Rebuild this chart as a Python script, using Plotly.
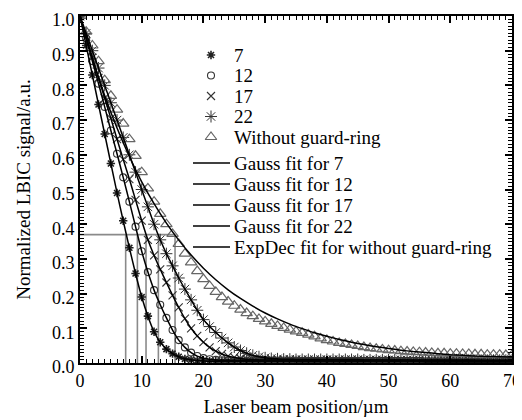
import plotly.graph_objects as go

# ---------------- data ----------------
x_pos = list(range(71))  # laser beam position, µm

y_7 = [1.0, 0.915, 0.83, 0.745, 0.66, 0.575, 0.49, 0.41, 0.332, 0.258,
       0.19, 0.135, 0.09, 0.06, 0.04, 0.027, 0.018, 0.012, 0.009, 0.007,
       0.006, 0.005, 0.005, 0.005, 0.005, 0.005, 0.005, 0.005, 0.005, 0.005,
       0.005, 0.005, 0.005, 0.005, 0.005, 0.005, 0.004, 0.004, 0.004, 0.004,
       0.004, 0.004, 0.004, 0.004, 0.004, 0.004, 0.004, 0.004, 0.004, 0.004,
       0.004, 0.004, 0.004, 0.004, 0.004, 0.004, 0.003, 0.003, 0.003, 0.003,
       0.003, 0.003, 0.003, 0.003, 0.003, 0.003, 0.003, 0.003, 0.003, 0.003,
       0.003]

y_12 = [1.0, 0.935, 0.87, 0.805, 0.738, 0.67, 0.603, 0.535, 0.465, 0.393,
        0.322, 0.262, 0.21, 0.168, 0.13, 0.095, 0.066, 0.045, 0.03, 0.02,
        0.014, 0.011, 0.009, 0.008, 0.008, 0.007, 0.007, 0.007, 0.007, 0.007,
        0.007, 0.007, 0.007, 0.007, 0.007, 0.007, 0.006, 0.006, 0.006, 0.006,
        0.006, 0.006, 0.006, 0.006, 0.006, 0.006, 0.006, 0.006, 0.006, 0.006,
        0.006, 0.006, 0.006, 0.006, 0.006, 0.006, 0.005, 0.005, 0.005, 0.005,
        0.005, 0.005, 0.005, 0.005, 0.005, 0.005, 0.005, 0.005, 0.005, 0.005,
        0.005]

y_17 = [1.0, 0.94, 0.88, 0.822, 0.763, 0.705, 0.645, 0.587, 0.53, 0.47,
        0.41, 0.355, 0.31, 0.27, 0.232, 0.195, 0.16, 0.128, 0.1, 0.078,
        0.06, 0.045, 0.034, 0.026, 0.02, 0.016, 0.013, 0.011, 0.01, 0.009,
        0.009, 0.009, 0.009, 0.009, 0.009, 0.009, 0.008, 0.008, 0.008, 0.008,
        0.008, 0.008, 0.008, 0.008, 0.008, 0.008, 0.008, 0.008, 0.008, 0.008,
        0.008, 0.008, 0.008, 0.008, 0.007, 0.007, 0.007, 0.007, 0.007, 0.007,
        0.007, 0.007, 0.007, 0.007, 0.007, 0.007, 0.007, 0.007, 0.007, 0.007,
        0.007]

y_22 = [1.0, 0.95, 0.9, 0.85, 0.8, 0.75, 0.7, 0.65, 0.6, 0.55,
        0.5, 0.45, 0.4, 0.355, 0.315, 0.28, 0.245, 0.213, 0.182, 0.152,
        0.125, 0.105, 0.088, 0.072, 0.058, 0.046, 0.036, 0.028, 0.022, 0.018,
        0.015, 0.013, 0.012, 0.011, 0.011, 0.01, 0.01, 0.01, 0.01, 0.01,
        0.01, 0.01, 0.01, 0.01, 0.01, 0.01, 0.009, 0.009, 0.009, 0.009,
        0.009, 0.009, 0.009, 0.009, 0.009, 0.009, 0.009, 0.009, 0.009, 0.009,
        0.009, 0.009, 0.009, 0.009, 0.008, 0.008, 0.008, 0.008, 0.008, 0.008,
        0.008]

y_nogr = [1.0, 0.955, 0.915, 0.87, 0.815, 0.77, 0.73, 0.69, 0.645, 0.597,
          0.55, 0.503, 0.465, 0.43, 0.4, 0.372, 0.343, 0.315, 0.29, 0.265,
          0.242, 0.222, 0.205, 0.19, 0.177, 0.165, 0.154, 0.144, 0.135, 0.127,
          0.12, 0.113, 0.107, 0.101, 0.096, 0.091, 0.087, 0.082, 0.077, 0.071,
          0.066, 0.062, 0.058, 0.055, 0.052, 0.049, 0.046, 0.043, 0.041, 0.039,
          0.037, 0.036, 0.034, 0.033, 0.032, 0.031, 0.03, 0.029, 0.028, 0.028,
          0.027, 0.027, 0.026, 0.026, 0.025, 0.025, 0.024, 0.024, 0.024, 0.023,
          0.023]

# ExpDec fit for the device without guard-ring
x_expfit = [0, 2, 4, 6, 8, 10, 12, 14, 16, 18, 20, 22, 24, 26, 28, 30, 32, 34,
            36, 38, 40, 42, 44, 46, 48, 50, 52, 54, 56, 58, 60, 62, 64, 66, 68, 70]
y_expfit = [1.0, 0.878, 0.771, 0.677, 0.595, 0.522, 0.459, 0.403, 0.354, 0.311,
            0.273, 0.24, 0.211, 0.186, 0.164, 0.144, 0.127, 0.112, 0.099, 0.087,
            0.077, 0.068, 0.06, 0.053, 0.047, 0.042, 0.037, 0.033, 0.03, 0.027,
            0.024, 0.022, 0.02, 0.019, 0.018, 0.017]

# 1/e level and the positions where each curve crosses it
level_1e = 0.37
cross_x = [7.4, 9.3, 10.7, 12.7, 15.4]

marker_names = ["7", "12", "17", "22", "Without guard-ring"]
fit_names = ["Gauss fit for 7", "Gauss fit for 12", "Gauss fit for 17",
             "Gauss fit for 22", "ExpDec fit for without guard-ring"]

# ---------------- styles / layout ----------------
FONT = "Liberation Serif"
PAGE_OFFSET = 8            # default body margin of the page
W, H = 522 - PAGE_OFFSET, 420 - PAGE_OFFSET
L, R, T, B = 80 - PAGE_OFFSET, 10, 16 - PAGE_OFFSET, 57
X_RANGE = [0, 70]
Y_RANGE = [0, 1.0]

def px_to_x(px):
    px -= PAGE_OFFSET
    return X_RANGE[0] + (px - L) / (W - L - R) * (X_RANGE[1] - X_RANGE[0])

def py_to_y(py):
    py -= PAGE_OFFSET
    return Y_RANGE[0] + (H - B - py) / (H - T - B) * (Y_RANGE[1] - Y_RANGE[0])

mk_styles = [
    dict(symbol="asterisk-open", size=7, color="#222", line=dict(width=1.6, color="#222")),
    dict(symbol="circle-open", size=7, color="#333", line=dict(width=1.1, color="#333")),
    dict(symbol="x-thin-open", size=8, color="#333", line=dict(width=1.1, color="#333")),
    dict(symbol="asterisk-open", size=10, color="#333", line=dict(width=1.0, color="#333")),
    dict(symbol="triangle-up-open", size=10, color="#666", line=dict(width=1.2, color="#666")),
]
series = [y_7, y_12, y_17, y_22, y_nogr]

fig = go.Figure()

# guide lines at the 1/e level
gx = [0, max(cross_x)]
gy = [level_1e, level_1e]
for c in cross_x:
    gx += [None, c, c]
    gy += [None, 0, level_1e]
fig.add_trace(go.Scatter(x=gx, y=gy, mode="lines", line=dict(color="#8a8a8a", width=1.6),
                         showlegend=False, hoverinfo="skip"))

# measured data
for ys, st, nm in zip(series, mk_styles, marker_names):
    fig.add_trace(go.Scatter(x=x_pos, y=ys, mode="markers", marker=st, name=nm, showlegend=False))

# fits
for ys, nm in zip(series[:4], fit_names[:4]):
    fig.add_trace(go.Scatter(x=x_pos, y=ys, mode="lines", name=nm, showlegend=False,
                             line=dict(color="black", width=1.5, shape="spline", smoothing=0.5)))
fig.add_trace(go.Scatter(x=x_expfit, y=y_expfit, mode="lines", name=fit_names[4], showlegend=False,
                         line=dict(color="black", width=1.5, shape="spline", smoothing=0.5)))

# ---------------- legend (laid out in page pixels, mapped to the axes) ----------------
mk_row0, mk_step, mk_sym_x = 55, 20.5, 211
fit_row0, fit_step, fit_x0, fit_x1 = 163, 21, 193, 230
text_x = 232

for i, (st, nm) in enumerate(zip(mk_styles, marker_names)):
    yy = mk_row0 + i * mk_step
    fig.add_trace(go.Scatter(x=[px_to_x(mk_sym_x)], y=[py_to_y(yy)], mode="markers",
                             marker=st, showlegend=False, hoverinfo="skip"))
    fig.add_annotation(x=px_to_x(text_x), y=py_to_y(yy), text=nm, showarrow=False,
                       xanchor="left", yanchor="middle", font=dict(family=FONT, size=19, color="black"))
for i, nm in enumerate(fit_names):
    yy = fit_row0 + i * fit_step
    fig.add_trace(go.Scatter(x=[px_to_x(fit_x0), px_to_x(fit_x1)], y=[py_to_y(yy), py_to_y(yy)],
                             mode="lines", line=dict(color="black", width=1.5),
                             showlegend=False, hoverinfo="skip"))
    fig.add_annotation(x=px_to_x(text_x), y=py_to_y(yy), text=nm, showarrow=False,
                       xanchor="left", yanchor="middle", font=dict(family=FONT, size=19, color="black"))

axis_common = dict(
    ticks="inside", ticklen=7, tickwidth=1.5, tickcolor="black",
    showline=True, linewidth=2, linecolor="black", mirror="allticks",
    showgrid=False, zeroline=False, automargin=False, layer="above traces",
    ticklabeloverflow="allow",
    tickfont=dict(family=FONT, size=18, color="black"),
)

fig.update_layout(
    template="simple_white",
    width=W, height=H,
    margin=dict(l=L, r=R, t=T, b=B, autoexpand=False),
    paper_bgcolor="white", plot_bgcolor="white",
    showlegend=False,
    xaxis=dict(range=X_RANGE, tickmode="linear", tick0=0, dtick=10,
               minor=dict(ticks="inside", dtick=1, ticklen=4, tickwidth=1, tickcolor="black"),
               title=dict(text="Laser beam position/µm", font=dict(family=FONT, size=19, color="black"), standoff=10),
               **axis_common),
    yaxis=dict(range=Y_RANGE, tickmode="linear", tick0=0, dtick=0.1, tickformat=".1f",
               ticklabelshift=4,
               minor=dict(ticks="inside", dtick=0.01, ticklen=4, tickwidth=1, tickcolor="black"),
               title=dict(text="Normalized LBIC signal/a.u.", font=dict(family=FONT, size=19, color="black"), standoff=16),
               **axis_common),
)

fig.write_html("out.html")
